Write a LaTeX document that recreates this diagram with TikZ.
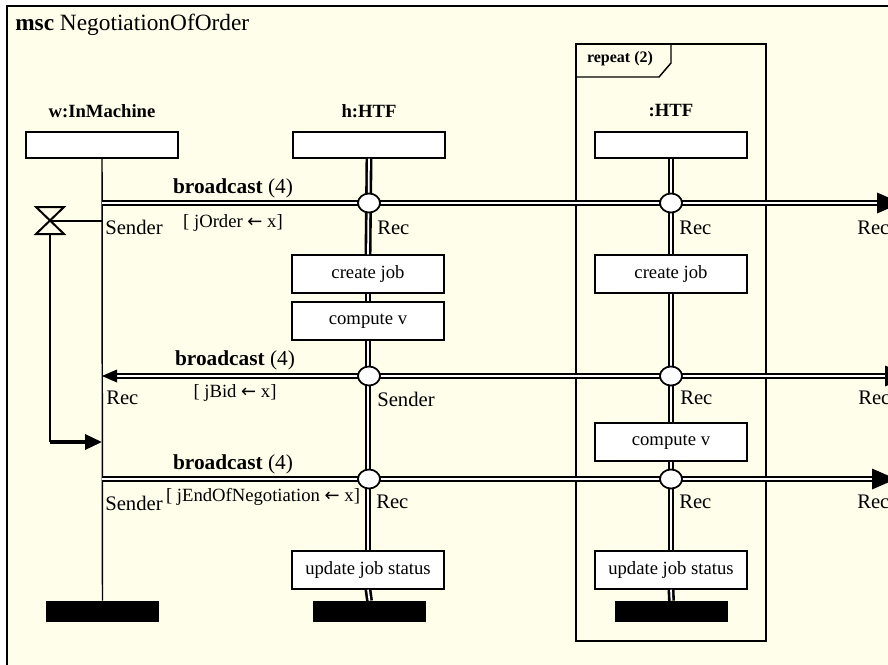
\documentclass[tikz,border=0pt]{standalone}
\usepackage{fontspec}
\setmainfont{Liberation Serif}
\newfontfamily\arrowfont{DejaVu Sans}
\newcommand{\larr}{{\arrowfont\fontsize{13.5}{15}\selectfont ←}}
\usetikzlibrary{arrows.meta,shapes.geometric}
\definecolor{cream}{HTML}{FFFEEA}
\begin{document}
\begin{tikzpicture}[x=0.75pt,y=-0.75pt,
  headbox/.style={draw,fill=white,line width=1.1pt,minimum width=114pt,minimum height=19.5pt,inner sep=0pt},
  actbox/.style={draw,fill=white,line width=1.1pt,minimum width=114pt,minimum height=28.5pt,inner sep=0pt,font=\fontsize{14}{16}\selectfont},
  endbar/.style={fill=black,minimum width=84.75pt,minimum height=15.75pt,inner sep=0pt},
  iname/.style={font=\fontsize{14}{16}\selectfont\bfseries,inner sep=0pt},
  mlabel/.style={font=\fontsize{16}{18}\selectfont,inner sep=0pt},
  role/.style={font=\fontsize{15.5}{18}\selectfont,inner sep=0pt,anchor=west},
  guard/.style={font=\fontsize{14}{16}\selectfont,inner sep=0pt},
  dbl/.style={double=white,double distance=1.3pt,line width=1.95pt},
  port/.style={ellipse,draw,fill=white,line width=1.3pt,minimum width=16.5pt,minimum height=14.25pt,inner sep=0pt},
  tip/.style={fill=black},
]
\useasboundingbox (0,0) rectangle (888,664);
\clip (0,0) rectangle (888,664);
\fill[white] (0,0) rectangle (888,664);
% outer frame
\draw[line width=1.9pt,fill=cream] (7,6) rectangle (930,700);
\node[anchor=west,inner sep=0pt,font=\fontsize{17.5}{20}\selectfont] (title) at (15,25) {\textbf{msc} NegotiationOfOrder};

% repeat inline frame
\draw[line width=1.1pt] (576,44) rectangle (766,641);
\draw[line width=1.1pt] (576,77) -- (659,77) -- (671,63) -- (671,44);
\node[font=\fontsize{12}{14}\selectfont\bfseries,inner sep=0pt] (rep) at (620,59) {repeat (2)};

% instance names
\node[iname] (wN) at (102,111) {w:InMachine};
\node[iname] (hN) at (369,111) {h:HTF};
\node[iname] (tN) at (671,111) {:HTF};

% head boxes
\node[headbox] (wH) at (102,145) {};
\node[headbox] (hH) at (369,145) {};
\node[headbox] (tH) at (671,145) {};

% actions
\node[actbox] (hA1) at (368,274) {create job};
\node[actbox] (hA2) at (368,321) {compute v};
\node[actbox] (hU)  at (368,570) {update job status};
\node[actbox] (tA1) at (671,274) {create job};
\node[actbox] (tA2) at (671,442) {compute v};
\node[actbox] (tU)  at (671,570) {update job status};

% end bars
\node[endbar] (wE) at (102.5,611.5) {};
\node[endbar] (hE) at (369.5,611.5) {};
\node[endbar] (tE) at (671.5,611.5) {};

% lifelines
\draw[line width=1.1pt] (wH.south) -- (wE.north);
\draw[dbl] (hH.south) -- (hA1.north);
\draw[dbl] (hA1.south) -- (hA2.north);
\draw[dbl] (hA2.south) -- (hU.north);
\draw[dbl] (hU.south) -- (hE.north);
\draw[dbl] (tH.south) -- (tA1.north);
\draw[dbl] (tA1.south) -- (tA2.north);
\draw[dbl] (tA2.south) -- (tU.north);
\draw[dbl] (tU.south) -- (tE.north);

% message endpoints
\coordinate (m1s) at (102,203);
\coordinate (m1e) at (877,203);
\coordinate (m2t) at (102,376);
\coordinate (m2b) at (117,376);
\coordinate (m2e) at (885,376);
\coordinate (m3s) at (102,479);
\coordinate (m3e) at (872,479);

% messages
\draw[dbl] (m1s) -- (m1e);
\fill[tip] (m1e) -- ++(0,-10.5) -- ++(24,10.5) -- ++(-24,10.5) -- cycle;
\draw[dbl] (m2b) -- (m2e);
\fill[tip] (m2t) -- ++(15,-6.5) -- ++(0,13) -- cycle;
\fill[tip] (m2e) -- ++(0,-10.5) -- ++(24,10.5) -- ++(-24,10.5) -- cycle;
\draw[dbl] (m3s) -- (m3e);
\fill[tip] (m3e) -- ++(0,-10.5) -- ++(24,10.5) -- ++(-24,10.5) -- cycle;

% ports
\node[port] (p1h) at (369,203) {};
\node[port] (p1t) at (671,203) {};
\node[port] (p2h) at (369,376) {};
\node[port] (p2t) at (671,376) {};
\node[port] (p3h) at (369,479) {};
\node[port] (p3t) at (671,479) {};

% message labels
\node[mlabel] (b1) at (233,188) {\textbf{broadcast} (4)};
\node[guard] (g1) at (233,223) {[ jOrder \larr{} x]};
\node[mlabel] (b2) at (235,360) {\textbf{broadcast} (4)};
\node[guard] (g2) at (235,393) {[ jBid \larr{} x]};
\node[mlabel] (b3) at (233,464) {\textbf{broadcast} (4)};
\node[guard] (g3) at (263,497) {[ jEndOfNegotiation \larr{} x]};

% roles
\node[role] (r1w) at (105,227) {Sender};
\node[role] (r1h) at (377,228) {Rec};
\node[role] (r1t) at (679,228) {Rec};
\node[role] (r1r) at (857,228) {Rec};
\node[role] (r2w) at (106,398) {Rec};
\node[role] (r2h) at (377,399) {Sender};
\node[role] (r2t) at (680,398) {Rec};
\node[role] (r2r) at (858,398) {Rec};
\node[role] (r3w) at (105,503) {Sender};
\node[role] (r3h) at (376,502) {Rec};
\node[role] (r3t) at (679,502) {Rec};
\node[role] (r3r) at (857,502) {Rec};

% timer
\coordinate (tm) at (50,221);
\coordinate (tw) at (102,221);
\coordinate (tb) at (50,234);
\coordinate (tc) at (50,442);
\coordinate (ta) at (102,442);
\draw[line width=1.5pt,line join=miter] (36,207) -- (64,207) -- (36,234) -- (64,234) -- cycle;
\draw[line width=0.9pt] (tm) -- (tw);
\draw[line width=1.9pt] (tb) -- (tc);
\draw[line width=2.6pt,-{Triangle[length=12.75pt,width=11.25pt]}] (tc) -- (ta);
\end{tikzpicture}
\end{document}
